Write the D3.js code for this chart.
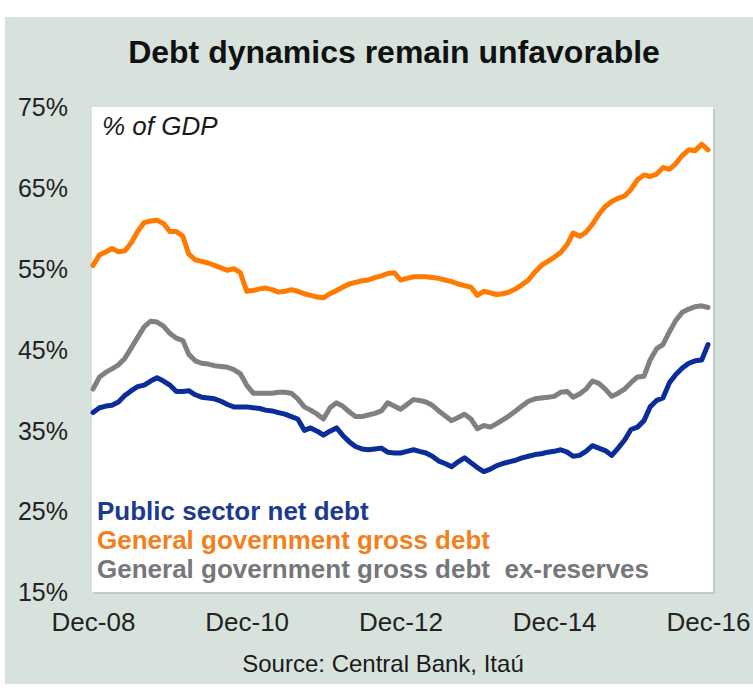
<!DOCTYPE html>
<html>
<head>
<meta charset="utf-8">
<script src="https://cdn.jsdelivr.net/npm/d3@7"></script>
<style>
  html, body { margin: 0; padding: 0; background: #ffffff; }
  svg { display: block; font-family: "Liberation Sans", Arial, Helvetica, sans-serif; }
</style>
</head>
<body>
<svg id="chart" width="753" height="692"></svg>
<script>
// Monthly series, Dec-2008 through Dec-2016, % of GDP
const startMonth = new Date(2008, 11, 1);

const netDebt = [
  37.2, 37.8, 38.0, 38.1, 38.5, 39.3, 39.9, 40.4, 40.6, 41.1, 41.5, 41.1,
  40.6, 39.8, 39.8, 39.9, 39.4, 39.1, 39.0, 38.9, 38.6, 38.2, 37.9, 37.9,
  37.9, 37.8, 37.7, 37.5, 37.4, 37.2, 37.0, 36.7, 36.4, 35.0, 35.3, 34.9,
  34.4, 34.9, 35.3, 34.4, 33.6, 33.0, 32.7, 32.6, 32.7, 32.8, 32.3, 32.2,
  32.2, 32.4, 32.6, 32.4, 32.2, 31.8, 31.2, 30.9, 30.5, 31.1, 31.6, 31.0,
  30.4, 29.9, 30.2, 30.6, 30.9, 31.1, 31.3, 31.6, 31.8, 32.0, 32.1, 32.3,
  32.4, 32.6, 32.3, 31.8, 31.9, 32.4, 33.1, 32.8, 32.5, 31.9, 32.8, 33.8,
  35.1, 35.4, 36.2, 37.9, 38.7, 39.0, 40.9, 41.9, 42.7, 43.3, 43.6, 43.7,
  45.6
];

const grossDebt = [
  55.4, 56.7, 57.1, 57.5, 57.1, 57.2, 58.2, 59.6, 60.7, 60.9, 61.0, 60.6,
  59.6, 59.6, 59.0, 56.8, 56.1, 55.9, 55.7, 55.4, 55.1, 54.8, 55.0, 54.5,
  52.2, 52.3, 52.5, 52.6, 52.4, 52.1, 52.2, 52.4, 52.2, 51.9, 51.7, 51.5,
  51.4, 51.9, 52.3, 52.7, 53.1, 53.3, 53.5, 53.6, 53.9, 54.1, 54.4, 54.5,
  53.6, 53.8, 54.0, 54.0, 54.0, 53.9, 53.8, 53.6, 53.4, 53.1, 52.9, 52.7,
  51.7, 52.2, 52.0, 51.8, 51.9, 52.1, 52.5, 53.0, 53.6, 54.6, 55.4, 55.9,
  56.4, 57.0, 58.0, 59.4, 59.0, 59.5, 60.5, 61.7, 62.7, 63.3, 63.7, 64.0,
  64.8, 66.0, 66.6, 66.4, 66.7, 67.5, 67.3, 68.0, 69.0, 69.7, 69.6, 70.4,
  69.7
];

const grossExReserves = [
  40.1, 41.6, 42.2, 42.6, 43.1, 43.9, 45.2, 46.5, 47.8, 48.5, 48.4, 47.9,
  47.0, 46.4, 46.1, 44.4, 43.6, 43.3, 43.2, 43.0, 42.9, 42.8, 42.5, 42.0,
  40.6, 39.6, 39.6, 39.6, 39.6, 39.7, 39.7, 39.6, 38.9, 37.9, 37.5, 37.0,
  36.4, 37.8, 38.4, 38.0, 37.3, 36.7, 36.7, 36.9, 37.1, 37.4, 38.4, 38.0,
  37.6, 38.2, 38.8, 38.7, 38.5, 38.1, 37.4, 36.8, 36.2, 36.6, 37.0, 36.4,
  35.2, 35.6, 35.4, 35.8, 36.3, 36.8, 37.4, 38.0, 38.6, 38.9, 39.0, 39.1,
  39.2, 39.7, 39.8, 39.1, 39.5, 40.1, 41.1, 40.8, 40.1, 39.2, 39.6, 40.1,
  40.9, 41.6, 41.7, 43.7, 45.1, 45.6, 47.2, 48.6, 49.6, 50.0, 50.3, 50.4,
  50.2
];

const yTicks = [15, 25, 35, 45, 55, 65, 75];
const xTickLabels = ["Dec-08", "Dec-10", "Dec-12", "Dec-14", "Dec-16"];
const xTickDates = [new Date(2008, 11, 1), new Date(2010, 11, 1), new Date(2012, 11, 1),
                    new Date(2014, 11, 1), new Date(2016, 11, 1)];

const seriesNames = ["Public sector net debt", "General government gross debt",
                     "General government gross debt  ex-reserves"];
const seriesColors = ["#0b2d9a", "#ff7a00", "#808080"];
const legendColors = ["#1d3a8e", "#f2801c", "#76777b"];

const monthDate = i => new Date(startMonth.getFullYear(), startMonth.getMonth() + i, 1);

const svg = d3.select("#chart");
const W = 753, H = 692;

// panel background
svg.append("rect").attr("x", 5).attr("y", 17).attr("width", W - 5).attr("height", 667)
  .attr("fill", "#d8e2dc");

// plot box with a soft shadow
const box = { x: 92, y: 107, w: 621, h: 485 };
svg.append("rect").attr("x", box.x + 2).attr("y", box.y + 2).attr("width", box.w).attr("height", box.h)
  .attr("fill", "#c3cbc6");
svg.append("rect").attr("x", box.x).attr("y", box.y).attr("width", box.w).attr("height", box.h)
  .attr("fill", "#ffffff");

const x = d3.scaleTime().domain([new Date(2008, 11, 1), new Date(2016, 11, 1)]).range([93, 708]);
const y = d3.scaleLinear().domain([15, 75]).range([592, 107]);

// title
svg.append("text").attr("x", 394).attr("y", 63).attr("text-anchor", "middle")
  .attr("font-size", 32).attr("font-weight", "bold").attr("fill", "#111")
  .text("Debt dynamics remain unfavorable");

// y axis labels
const yAxis = d3.axisLeft(y).tickValues(yTicks).tickSize(0).tickPadding(0)
  .tickFormat(d => d + "%");
svg.append("g").attr("transform", "translate(68,0)").call(yAxis)
  .call(g => g.select(".domain").remove())
  .call(g => g.selectAll("text").attr("font-size", 25).attr("fill", "#222")
    .attr("font-family", "\"Liberation Sans\", Arial, sans-serif").attr("dy", "0.35em"));

// x axis labels
const xAxis = d3.axisBottom(x).tickValues(xTickDates).tickSize(0).tickPadding(0)
  .tickFormat((d, i) => xTickLabels[i]);
svg.append("g").attr("transform", "translate(0,613)").call(xAxis)
  .call(g => g.select(".domain").remove())
  .call(g => g.selectAll("text").attr("font-size", 26).attr("fill", "#222")
    .attr("font-family", "\"Liberation Sans\", Arial, sans-serif").attr("dy", "0.71em"));

// unit note
svg.append("text").attr("x", 102).attr("y", 135).attr("font-size", 26)
  .attr("font-style", "italic").attr("fill", "#1a1a1a").text("% of GDP");

// series lines
const line = d3.line().x((d, i) => x(monthDate(i))).y(d => y(d)).curve(d3.curveLinear);
const allSeries = [grossExReserves, grossDebt, netDebt];
const allColors = [seriesColors[2], seriesColors[1], seriesColors[0]];
allSeries.forEach((s, k) => {
  svg.append("path").datum(s).attr("d", line)
    .attr("fill", "none").attr("stroke", allColors[k]).attr("stroke-width", 5)
    .attr("stroke-linejoin", "round").attr("stroke-linecap", "round");
});

// legend
seriesNames.forEach((name, i) => {
  svg.append("text").attr("x", 97).attr("y", 520 + i * 29)
    .attr("font-size", 26).attr("font-weight", "bold").attr("fill", legendColors[i])
    .attr("xml:space", "preserve").style("white-space", "pre").text(name);
});

// source
svg.append("text").attr("x", 383).attr("y", 672).attr("text-anchor", "middle")
  .attr("font-size", 24).attr("fill", "#1a1a1a").text("Source: Central Bank, Itaú");
</script>
</body>
</html>
